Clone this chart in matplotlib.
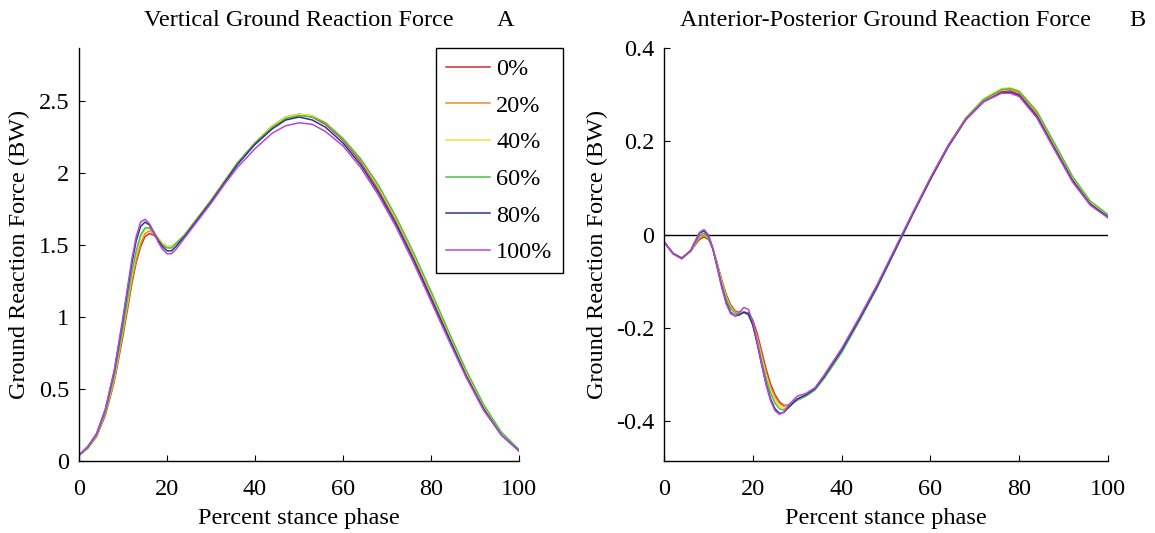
import matplotlib
matplotlib.use("Agg")
import matplotlib.pyplot as plt

# Percent of stance phase at which the force samples are taken
stance_v = [0, 2, 4, 6, 8, 10, 11, 12, 13, 14, 15, 16, 17, 18, 19, 20, 21, 22, 24, 26,
            28, 30, 33, 36, 40, 44, 47, 50, 53, 56, 60, 64, 68, 72, 76, 80, 84, 88, 92, 96, 100]
stance_ap = [0, 2, 4, 6, 7, 8, 9, 10, 11, 12, 13, 14, 15, 16, 17, 18, 19, 20, 21, 22, 23,
             24, 25, 26, 27, 28, 30, 32, 34, 36, 40, 44, 48, 52, 56, 60, 64, 68, 72, 76,
             78, 80, 84, 88, 92, 96, 100]

conditions = ["0%", "20%", "40%", "60%", "80%", "100%"]
colors = ["#c8322d", "#e8902a", "#f2e33a", "#4cc04a", "#2a3590", "#b548d8"]

# Vertical ground reaction force (body weights)
vgrf_0 = [0.04, 0.09, 0.17, 0.32, 0.55, 0.87, 1.05, 1.23, 1.38, 1.49, 1.56, 1.58, 1.57, 1.54, 1.51,
          1.49, 1.49, 1.51, 1.57, 1.65, 1.73, 1.81, 1.94, 2.07, 2.21, 2.33, 2.39, 2.41, 2.39, 2.34,
          2.23, 2.08, 1.89, 1.67, 1.42, 1.15, 0.87, 0.60, 0.37, 0.19, 0.07]
vgrf_20 = [0.04, 0.09, 0.17, 0.33, 0.56, 0.89, 1.07, 1.25, 1.40, 1.51, 1.58, 1.60, 1.58, 1.55, 1.51,
           1.49, 1.49, 1.51, 1.57, 1.65, 1.73, 1.81, 1.94, 2.07, 2.21, 2.33, 2.39, 2.41, 2.40, 2.35,
           2.24, 2.09, 1.90, 1.68, 1.43, 1.16, 0.88, 0.61, 0.38, 0.19, 0.07]
vgrf_40 = [0.04, 0.09, 0.18, 0.34, 0.58, 0.92, 1.10, 1.29, 1.44, 1.55, 1.61, 1.62, 1.59, 1.55, 1.51,
           1.49, 1.49, 1.51, 1.57, 1.65, 1.73, 1.81, 1.94, 2.07, 2.21, 2.33, 2.39, 2.41, 2.40, 2.35,
           2.24, 2.10, 1.91, 1.69, 1.44, 1.17, 0.89, 0.62, 0.38, 0.19, 0.07]
vgrf_60 = [0.04, 0.09, 0.18, 0.34, 0.59, 0.93, 1.12, 1.31, 1.46, 1.57, 1.62, 1.62, 1.59, 1.54, 1.50,
           1.48, 1.48, 1.51, 1.57, 1.65, 1.73, 1.81, 1.94, 2.07, 2.21, 2.32, 2.38, 2.40, 2.39, 2.35,
           2.24, 2.10, 1.92, 1.70, 1.45, 1.18, 0.90, 0.63, 0.39, 0.20, 0.08]
vgrf_80 = [0.04, 0.10, 0.19, 0.36, 0.62, 0.98, 1.18, 1.37, 1.53, 1.63, 1.66, 1.64, 1.59, 1.53, 1.49,
           1.46, 1.46, 1.49, 1.56, 1.64, 1.72, 1.80, 1.93, 2.06, 2.20, 2.31, 2.37, 2.39, 2.37, 2.32,
           2.21, 2.06, 1.87, 1.65, 1.40, 1.13, 0.86, 0.59, 0.36, 0.18, 0.07]
vgrf_100 = [0.04, 0.10, 0.19, 0.36, 0.63, 1.00, 1.20, 1.40, 1.56, 1.66, 1.68, 1.65, 1.59, 1.52, 1.47,
            1.44, 1.44, 1.47, 1.55, 1.63, 1.71, 1.79, 1.92, 2.04, 2.17, 2.28, 2.33, 2.35, 2.34, 2.29,
            2.19, 2.04, 1.85, 1.63, 1.38, 1.11, 0.84, 0.58, 0.35, 0.18, 0.07]

# Anterior-posterior ground reaction force (body weights)
ap_0 = [-0.015, -0.040, -0.050, -0.036, -0.022, -0.010, -0.005, -0.010, -0.030, -0.062, -0.097, -0.128,
        -0.150, -0.163, -0.167, -0.166, -0.168, -0.183, -0.212, -0.250, -0.288, -0.320, -0.343, -0.358,
        -0.366, -0.365, -0.355, -0.345, -0.330, -0.305, -0.248, -0.182, -0.112, -0.035, 0.043, 0.118,
        0.188, 0.247, 0.285, 0.306, 0.308, 0.301, 0.256, 0.187, 0.118, 0.067, 0.040]
ap_20 = [-0.015, -0.040, -0.050, -0.036, -0.020, -0.006, -0.002, -0.008, -0.030, -0.064, -0.100, -0.132,
         -0.153, -0.165, -0.168, -0.166, -0.170, -0.188, -0.220, -0.258, -0.296, -0.327, -0.348, -0.362,
         -0.368, -0.365, -0.353, -0.344, -0.329, -0.303, -0.246, -0.180, -0.110, -0.033, 0.045, 0.120,
         0.190, 0.249, 0.288, 0.310, 0.312, 0.305, 0.260, 0.190, 0.121, 0.069, 0.041]
ap_40 = [-0.015, -0.040, -0.050, -0.035, -0.018, -0.003, 0.002, -0.006, -0.030, -0.066, -0.103, -0.135,
         -0.156, -0.167, -0.169, -0.166, -0.171, -0.191, -0.225, -0.265, -0.303, -0.334, -0.355, -0.368,
         -0.373, -0.368, -0.354, -0.345, -0.331, -0.306, -0.250, -0.183, -0.112, -0.034, 0.045, 0.121,
         0.192, 0.251, 0.291, 0.313, 0.315, 0.308, 0.264, 0.194, 0.124, 0.071, 0.042]
ap_60 = [-0.015, -0.040, -0.050, -0.035, -0.018, -0.002, 0.003, -0.006, -0.031, -0.068, -0.106, -0.138,
         -0.158, -0.168, -0.170, -0.167, -0.172, -0.193, -0.229, -0.270, -0.309, -0.340, -0.361, -0.373,
         -0.376, -0.369, -0.354, -0.346, -0.333, -0.309, -0.253, -0.185, -0.114, -0.035, 0.044, 0.120,
         0.191, 0.250, 0.290, 0.311, 0.313, 0.307, 0.264, 0.195, 0.125, 0.072, 0.043]
ap_80 = [-0.015, -0.040, -0.051, -0.034, -0.015, 0.003, 0.008, -0.002, -0.030, -0.070, -0.111, -0.145,
         -0.166, -0.174, -0.172, -0.166, -0.170, -0.194, -0.234, -0.279, -0.320, -0.352, -0.373, -0.383,
         -0.381, -0.371, -0.352, -0.343, -0.330, -0.305, -0.248, -0.181, -0.111, -0.034, 0.044, 0.119,
         0.189, 0.247, 0.285, 0.304, 0.305, 0.298, 0.253, 0.184, 0.116, 0.065, 0.038]
ap_100 = [-0.015, -0.041, -0.052, -0.034, -0.014, 0.005, 0.011, 0.000, -0.029, -0.071, -0.113, -0.148,
          -0.169, -0.174, -0.166, -0.156, -0.160, -0.186, -0.230, -0.278, -0.322, -0.356, -0.377, -0.385,
          -0.380, -0.366, -0.346, -0.340, -0.328, -0.302, -0.244, -0.177, -0.107, -0.030, 0.047, 0.122,
          0.191, 0.248, 0.285, 0.303, 0.303, 0.296, 0.250, 0.181, 0.113, 0.063, 0.036]

x_ticks = [0, 20, 40, 60, 80, 100]
v_ticks = [0, 0.5, 1, 1.5, 2, 2.5]
v_tick_labels = ["0", "0.5", "1", "1.5", "2", "2.5"]
ap_ticks = [-0.4, -0.2, 0, 0.2, 0.4]
ap_tick_labels = ["-0.4", "-0.2", "0", "0.2", "0.4"]

vgrf = [vgrf_0, vgrf_20, vgrf_40, vgrf_60, vgrf_80, vgrf_100]
ap = [ap_0, ap_20, ap_40, ap_60, ap_80, ap_100]

plt.rcParams["font.family"] = ["Liberation Serif", "DejaVu Serif"]
FS = 17.5

W, H = 1155, 533
fig = plt.figure(figsize=(W / 100, H / 100), dpi=100)


def px_axes(x0, x1, y_top, y_bot):
    return fig.add_axes([x0 / W, 1 - y_bot / H, (x1 - x0) / W, (y_bot - y_top) / H])


ax_v = px_axes(79, 519, 48, 461)
ax_ap = px_axes(664, 1108, 48, 461)

for ax in (ax_v, ax_ap):
    for side in ("top", "right"):
        ax.spines[side].set_visible(False)
    for side in ("left", "bottom"):
        ax.spines[side].set_linewidth(1.0)
        ax.spines[side].set_color("black")
    ax.tick_params(direction="in", length=4, width=0.8, labelsize=FS, pad=7)
    ax.tick_params(axis="x", pad=13)
    ax.set_xlim(0, 100)
    ax.set_xticks(x_ticks)
    ax.set_xticklabels([str(t) for t in x_ticks])
    ax.set_xlabel("Percent stance phase", fontsize=FS, labelpad=6)
    ax.set_ylabel("Ground Reaction Force (BW)", fontsize=FS, labelpad=6)

for vals, col, lab in zip(vgrf, colors, conditions):
    ax_v.plot(stance_v, vals, color=col, lw=1.1, label=lab)
ax_v.set_ylim(0, 2.87)
ax_v.set_yticks(v_ticks)
ax_v.set_yticklabels(v_tick_labels)

ax_ap.axhline(0, color="black", lw=1.0, xmin=0, xmax=1)
for vals, col in zip(ap, colors):
    ax_ap.plot(stance_ap, vals, color=col, lw=1.1)
ax_ap.set_ylim(-0.485, 0.4)
ax_ap.set_yticks(ap_ticks)
ax_ap.set_yticklabels(ap_tick_labels)

leg = ax_v.legend(loc="upper left", bbox_to_anchor=(436 / W, 1 - 48 / H),
                  bbox_transform=fig.transFigure, fontsize=FS, frameon=True,
                  fancybox=False, shadow=False, framealpha=1, edgecolor="black",
                  handlelength=1.8, handletextpad=0.25, labelspacing=0.6,
                  borderpad=0.42, borderaxespad=0)
leg.get_frame().set_linewidth(1.0)

fig.text(299 / W, 1 - 20 / H, "Vertical Ground Reaction Force", fontsize=FS,
         ha="center", va="center")
fig.text(506 / W, 1 - 20 / H, "A", fontsize=FS, ha="center", va="center")
fig.text(886 / W, 1 - 20 / H, "Anterior-Posterior Ground Reaction Force", fontsize=FS,
         ha="center", va="center")
fig.text(1137 / W, 1 - 20 / H, "B", fontsize=FS, ha="center", va="center")

fig.savefig("out.png", dpi=100, facecolor="white")
